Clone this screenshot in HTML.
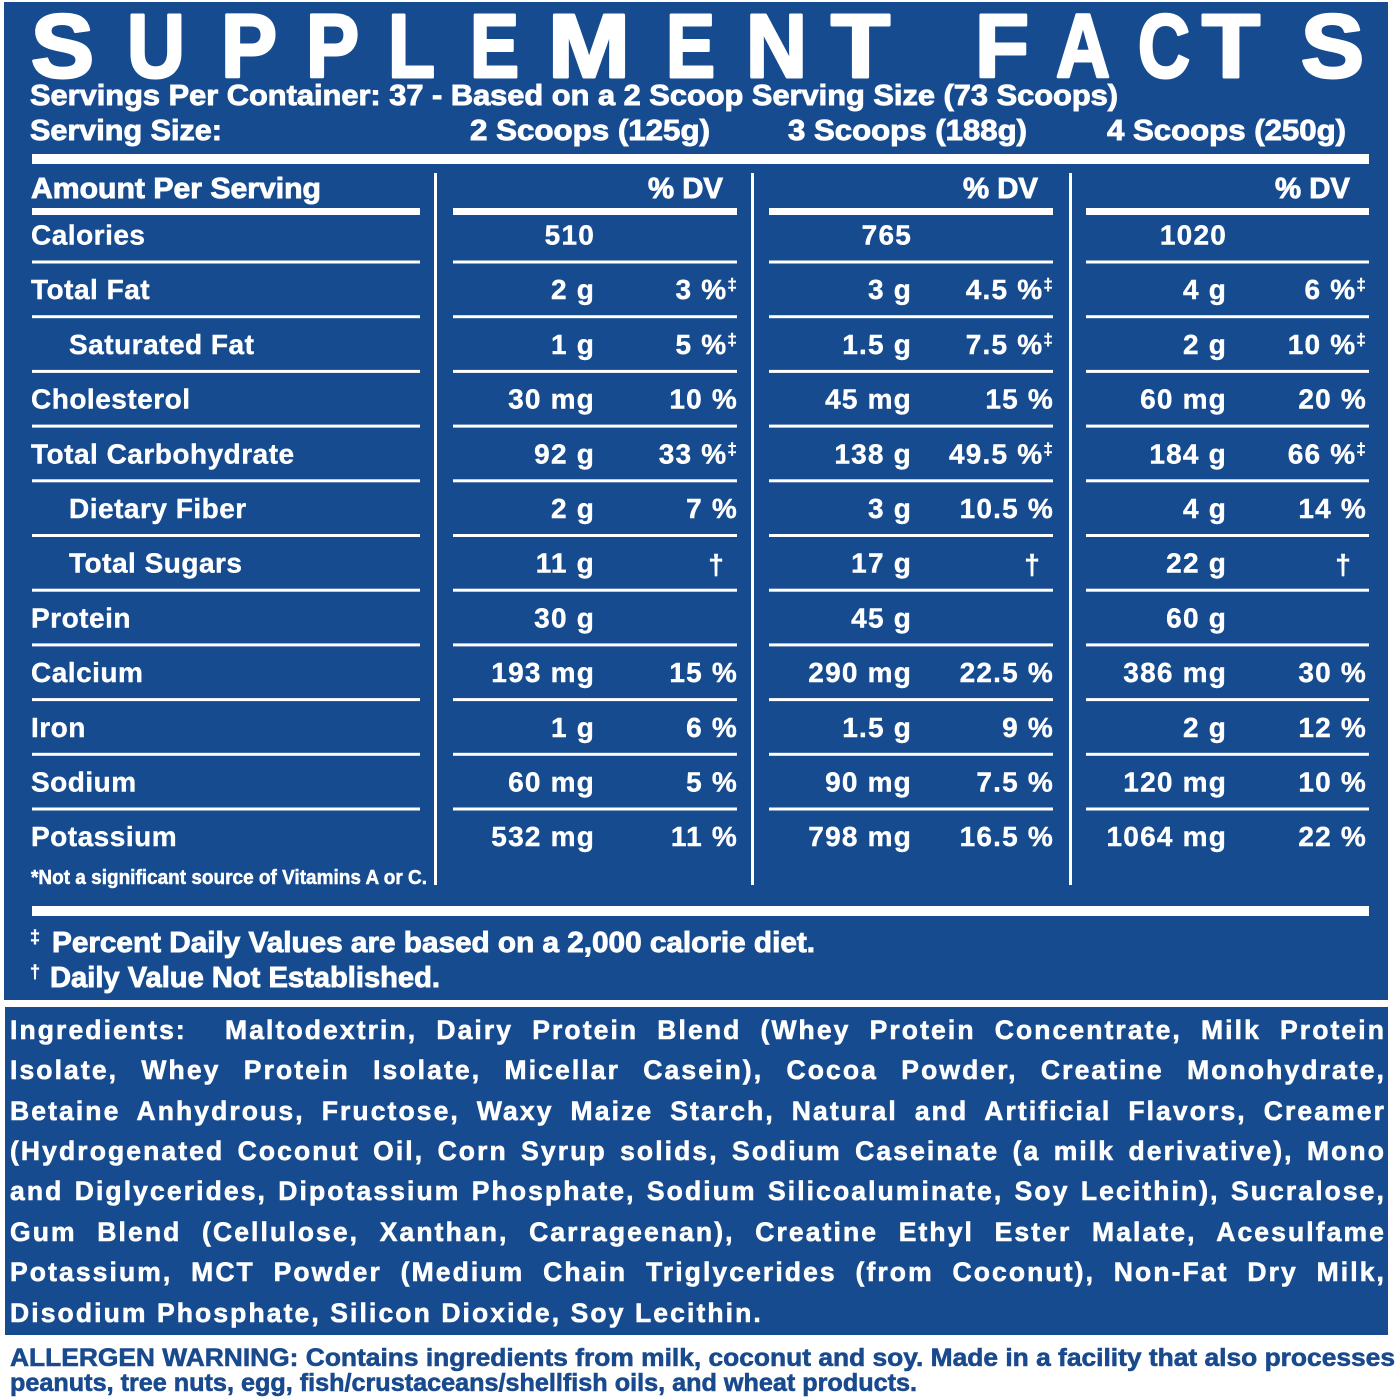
<!DOCTYPE html>
<html><head><meta charset="utf-8">
<style>
html,body{margin:0;padding:0;background:#fff;}
body{width:1400px;height:1400px;position:relative;overflow:hidden;}
svg{position:absolute;left:0;top:0;}
.ing{position:absolute;left:10px;width:1376px;font-family:"Liberation Sans",Arial,sans-serif;font-weight:bold;font-size:26.5px;letter-spacing:2.1px;color:#fff;line-height:30px;text-align:justify;text-align-last:justify;white-space:nowrap;-webkit-text-stroke:0.6px #fff;}
.ing.last{text-align-last:left;text-align:left;}
</style></head><body>
<svg width="1400" height="1400" viewBox="0 0 1400 1400" xmlns="http://www.w3.org/2000/svg">
<rect x="0" y="0" width="1400" height="1400" fill="#ffffff"/>
<rect x="4" y="2" width="1384" height="998" fill="#164b90"/>
<rect x="5" y="1007" width="1383" height="328" fill="#164b90"/>

<g font-family="Liberation Sans Narrow, Liberation Sans, Arial, sans-serif" font-weight="bold" fill="#fff" stroke="#fff" stroke-width="3" stroke-linejoin="round" font-size="90">
<text x="31" y="77" textLength="63" lengthAdjust="spacingAndGlyphs">S</text>
<text x="127" y="77" textLength="58" lengthAdjust="spacingAndGlyphs">U</text>
<text x="221" y="77" textLength="56" lengthAdjust="spacingAndGlyphs">P</text>
<text x="306" y="77" textLength="53" lengthAdjust="spacingAndGlyphs">P</text>
<text x="388" y="77" textLength="47" lengthAdjust="spacingAndGlyphs">L</text>
<text x="470" y="77" textLength="49" lengthAdjust="spacingAndGlyphs">E</text>
<text x="548" y="77" textLength="82" lengthAdjust="spacingAndGlyphs">M</text>
<text x="666" y="77" textLength="49" lengthAdjust="spacingAndGlyphs">E</text>
<text x="746" y="77" textLength="61" lengthAdjust="spacingAndGlyphs">N</text>
<text x="831" y="77" textLength="59" lengthAdjust="spacingAndGlyphs">T</text>
<text x="975" y="77" textLength="54" lengthAdjust="spacingAndGlyphs">F</text>
<text x="1056" y="77" textLength="54" lengthAdjust="spacingAndGlyphs">A</text>
<text x="1138" y="77" textLength="52" lengthAdjust="spacingAndGlyphs">C</text>
<text x="1202" y="77" textLength="58" lengthAdjust="spacingAndGlyphs">T</text>
<text x="1301" y="77" textLength="63" lengthAdjust="spacingAndGlyphs">S</text>
</g>

<g font-family="Liberation Sans Narrow, Liberation Sans, Arial, sans-serif" font-weight="bold" fill="#fff" stroke="#fff" stroke-width="0.9" font-size="29">
<text x="30" y="105" textLength="1088" lengthAdjust="spacingAndGlyphs">Servings Per Container: 37 - Based on a 2 Scoop Serving Size (73 Scoops)</text>
<text x="30" y="140" textLength="192" lengthAdjust="spacingAndGlyphs">Serving Size:</text>
<text x="470" y="140" textLength="240" lengthAdjust="spacingAndGlyphs">2 Scoops (125g)</text>
<text x="788" y="140" textLength="239" lengthAdjust="spacingAndGlyphs">3 Scoops (188g)</text>
<text x="1107" y="140" textLength="239" lengthAdjust="spacingAndGlyphs">4 Scoops (250g)</text>
<text x="31" y="198" textLength="290" lengthAdjust="spacingAndGlyphs">Amount Per Serving</text>
<text x="648" y="198" textLength="75" lengthAdjust="spacingAndGlyphs">% DV</text>
<text x="963" y="198" textLength="75" lengthAdjust="spacingAndGlyphs">% DV</text>
<text x="1275" y="198" textLength="75" lengthAdjust="spacingAndGlyphs">% DV</text>
<text x="31" y="884" font-size="20" stroke-width="0.5" textLength="396" lengthAdjust="spacingAndGlyphs">*Not a significant source of Vitamins A or C.</text>
<text x="30" y="943" font-size="18" stroke-width="0.5">‡</text>
<text x="52" y="952" textLength="763" lengthAdjust="spacingAndGlyphs">Percent Daily Values are based on a 2,000 calorie diet.</text>
<text x="30" y="978" font-size="18" stroke-width="0.5">†</text>
<text x="50" y="987" textLength="390" lengthAdjust="spacingAndGlyphs">Daily Value Not Established.</text>
</g>

<g fill="#fff">
<rect x="32" y="154" width="1337" height="10"/>
<rect x="32" y="906" width="1337" height="10"/>
<rect x="32" y="208" width="388" height="7"/>
<rect x="453" y="208" width="284" height="7"/>
<rect x="769" y="208" width="284" height="7"/>
<rect x="1086" y="208" width="283" height="7"/>
<rect x="434" y="173" width="3" height="712"/>
<rect x="751" y="173" width="3" height="712"/>
<rect x="1069" y="173" width="3" height="712"/>
</g>

<g fill="#fff">
<rect x="32" y="260.5" width="388" height="3"/><rect x="453" y="260.5" width="284" height="3"/><rect x="769" y="260.5" width="284" height="3"/><rect x="1086" y="260.5" width="283" height="3"/>
<rect x="32" y="315.2" width="388" height="3"/><rect x="453" y="315.2" width="284" height="3"/><rect x="769" y="315.2" width="284" height="3"/><rect x="1086" y="315.2" width="283" height="3"/>
<rect x="32" y="369.9" width="388" height="3"/><rect x="453" y="369.9" width="284" height="3"/><rect x="769" y="369.9" width="284" height="3"/><rect x="1086" y="369.9" width="283" height="3"/>
<rect x="32" y="424.6" width="388" height="3"/><rect x="453" y="424.6" width="284" height="3"/><rect x="769" y="424.6" width="284" height="3"/><rect x="1086" y="424.6" width="283" height="3"/>
<rect x="32" y="479.3" width="388" height="3"/><rect x="453" y="479.3" width="284" height="3"/><rect x="769" y="479.3" width="284" height="3"/><rect x="1086" y="479.3" width="283" height="3"/>
<rect x="32" y="534" width="388" height="3"/><rect x="453" y="534" width="284" height="3"/><rect x="769" y="534" width="284" height="3"/><rect x="1086" y="534" width="283" height="3"/>
<rect x="32" y="588.7" width="388" height="3"/><rect x="453" y="588.7" width="284" height="3"/><rect x="769" y="588.7" width="284" height="3"/><rect x="1086" y="588.7" width="283" height="3"/>
<rect x="32" y="643.4" width="388" height="3"/><rect x="453" y="643.4" width="284" height="3"/><rect x="769" y="643.4" width="284" height="3"/><rect x="1086" y="643.4" width="283" height="3"/>
<rect x="32" y="698.1" width="388" height="3"/><rect x="453" y="698.1" width="284" height="3"/><rect x="769" y="698.1" width="284" height="3"/><rect x="1086" y="698.1" width="283" height="3"/>
<rect x="32" y="752.8" width="388" height="3"/><rect x="453" y="752.8" width="284" height="3"/><rect x="769" y="752.8" width="284" height="3"/><rect x="1086" y="752.8" width="283" height="3"/>
<rect x="32" y="807.5" width="388" height="3"/><rect x="453" y="807.5" width="284" height="3"/><rect x="769" y="807.5" width="284" height="3"/><rect x="1086" y="807.5" width="283" height="3"/>
</g>

<g font-family="Liberation Sans, Arial, sans-serif" font-weight="bold" fill="#fff" stroke="#fff" stroke-width="0.4" font-size="28" letter-spacing="0.5">
<text x="31" y="244.5">Calories</text>
<text x="31" y="299.2">Total Fat</text>
<text x="69" y="353.9">Saturated Fat</text>
<text x="31" y="408.6">Cholesterol</text>
<text x="31" y="463.3">Total Carbohydrate</text>
<text x="69" y="518">Dietary Fiber</text>
<text x="69" y="572.7">Total Sugars</text>
<text x="31" y="627.4">Protein</text>
<text x="31" y="682.1">Calcium</text>
<text x="31" y="736.8">Iron</text>
<text x="31" y="791.5">Sodium</text>
<text x="31" y="846.2">Potassium</text>
</g>

<g font-family="Liberation Sans, Arial, sans-serif" font-weight="bold" fill="#fff" stroke="#fff" stroke-width="0.4" font-size="28" letter-spacing="1.2" text-anchor="end">
<text x="595" y="244.5">510</text><text x="912" y="244.5">765</text><text x="1227" y="244.5">1020</text>
<text x="595" y="299.2">2 g</text><text x="912" y="299.2">3 g</text><text x="1227" y="299.2">4 g</text>
<text x="595" y="353.9">1 g</text><text x="912" y="353.9">1.5 g</text><text x="1227" y="353.9">2 g</text>
<text x="595" y="408.6">30 mg</text><text x="912" y="408.6">45 mg</text><text x="1227" y="408.6">60 mg</text>
<text x="595" y="463.3">92 g</text><text x="912" y="463.3">138 g</text><text x="1227" y="463.3">184 g</text>
<text x="595" y="518">2 g</text><text x="912" y="518">3 g</text><text x="1227" y="518">4 g</text>
<text x="595" y="572.7">11 g</text><text x="912" y="572.7">17 g</text><text x="1227" y="572.7">22 g</text>
<text x="595" y="627.4">30 g</text><text x="912" y="627.4">45 g</text><text x="1227" y="627.4">60 g</text>
<text x="595" y="682.1">193 mg</text><text x="912" y="682.1">290 mg</text><text x="1227" y="682.1">386 mg</text>
<text x="595" y="736.8">1 g</text><text x="912" y="736.8">1.5 g</text><text x="1227" y="736.8">2 g</text>
<text x="595" y="791.5">60 mg</text><text x="912" y="791.5">90 mg</text><text x="1227" y="791.5">120 mg</text>
<text x="595" y="846.2">532 mg</text><text x="912" y="846.2">798 mg</text><text x="1227" y="846.2">1064 mg</text>

<text x="738" y="299.2">3 %<tspan font-size="17" dy="-9">‡</tspan></text>
<text x="1054" y="299.2">4.5 %<tspan font-size="17" dy="-9">‡</tspan></text>
<text x="1367" y="299.2">6 %<tspan font-size="17" dy="-9">‡</tspan></text>
<text x="738" y="353.9">5 %<tspan font-size="17" dy="-9">‡</tspan></text>
<text x="1054" y="353.9">7.5 %<tspan font-size="17" dy="-9">‡</tspan></text>
<text x="1367" y="353.9">10 %<tspan font-size="17" dy="-9">‡</tspan></text>
<text x="738" y="408.6">10 %</text><text x="1054" y="408.6">15 %</text><text x="1367" y="408.6">20 %</text>
<text x="738" y="463.3">33 %<tspan font-size="17" dy="-9">‡</tspan></text>
<text x="1054" y="463.3">49.5 %<tspan font-size="17" dy="-9">‡</tspan></text>
<text x="1367" y="463.3">66 %<tspan font-size="17" dy="-9">‡</tspan></text>
<text x="738" y="518">7 %</text><text x="1054" y="518">10.5 %</text><text x="1367" y="518">14 %</text>
<text x="738" y="682.1">15 %</text><text x="1054" y="682.1">22.5 %</text><text x="1367" y="682.1">30 %</text>
<text x="738" y="736.8">6 %</text><text x="1054" y="736.8">9 %</text><text x="1367" y="736.8">12 %</text>
<text x="738" y="791.5">5 %</text><text x="1054" y="791.5">7.5 %</text><text x="1367" y="791.5">10 %</text>
<text x="738" y="846.2">11 %</text><text x="1054" y="846.2">16.5 %</text><text x="1367" y="846.2">22 %</text>
</g>
<g font-family="Liberation Sans, Arial, sans-serif" font-weight="bold" fill="#fff" stroke="#fff" stroke-width="0.4" font-size="28" text-anchor="middle">
<text x="716" y="574">†</text><text x="1032" y="574">†</text><text x="1343" y="574">†</text>
</g>

<g font-family="Liberation Sans Narrow, Liberation Sans, Arial, sans-serif" font-weight="bold" fill="#1a4a8e" stroke="#1a4a8e" stroke-width="0.6" font-size="25">
<text x="10" y="1366" textLength="1385" lengthAdjust="spacingAndGlyphs">ALLERGEN WARNING: Contains ingredients from milk, coconut and soy. Made in a facility that also processes</text>
<text x="10" y="1391" textLength="907" lengthAdjust="spacingAndGlyphs">peanuts, tree nuts, egg, fish/crustaceans/shellfish oils, and wheat products.</text>
</g>
</svg>

<div class="ing" style="top:1014.8px">Ingredients:&nbsp; Maltodextrin, Dairy Protein Blend (Whey Protein Concentrate, Milk Protein</div>
<div class="ing" style="top:1055.2px">Isolate, Whey Protein Isolate, Micellar Casein), Cocoa Powder, Creatine Monohydrate,</div>
<div class="ing" style="top:1095.6px">Betaine Anhydrous, Fructose, Waxy Maize Starch, Natural and Artificial Flavors, Creamer</div>
<div class="ing" style="top:1136px">(Hydrogenated Coconut Oil, Corn Syrup solids, Sodium Caseinate (a milk derivative), Mono</div>
<div class="ing" style="top:1176.4px">and Diglycerides, Dipotassium Phosphate, Sodium Silicoaluminate, Soy Lecithin), Sucralose,</div>
<div class="ing" style="top:1216.8px">Gum Blend (Cellulose, Xanthan, Carrageenan), Creatine Ethyl Ester Malate, Acesulfame</div>
<div class="ing" style="top:1257.2px">Potassium, MCT Powder (Medium Chain Triglycerides (from Coconut), Non-Fat Dry Milk,</div>
<div class="ing last" style="top:1297.6px">Disodium Phosphate, Silicon Dioxide, Soy Lecithin.</div>
</body></html>
